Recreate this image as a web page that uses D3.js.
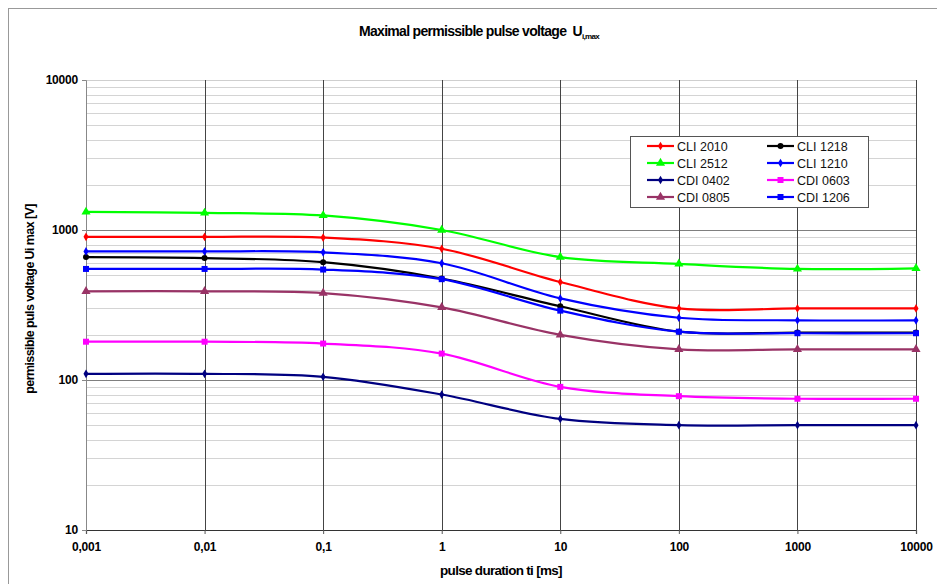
<!DOCTYPE html>
<html>
<head>
<meta charset="utf-8">
<script src="https://cdn.jsdelivr.net/npm/d3@7"></script>
<style>
  body { margin: 0; background: #fff; }
  svg { display: block; }
  .tick text { font-family: "Liberation Sans", Arial, sans-serif; font-weight: bold; font-size: 12px; letter-spacing: -0.2px; fill: #000; }
</style>
</head>
<body>
<div id="chart"></div>
<script>
// Data
const durations = [0.001, 0.01, 0.1, 1, 10, 100, 1000, 10000];
const durationLabels = ['0,001', '0,01', '0,1', '1', '10', '100', '1000', '10000'];
const voltageTicks = [10, 100, 1000, 10000];

const seriesNames = ['CLI 2010', 'CLI 1218', 'CLI 2512', 'CLI 1210', 'CDI 0402', 'CDI 0603', 'CDI 0805', 'CDI 1206'];
const cli2010 = [900, 900, 890, 750, 450, 300, 300, 300];
const cli1218 = [660, 650, 610, 475, 310, 210, 207, 207];
const cli2512 = [1320, 1300, 1250, 1000, 660, 595, 550, 555];
const cli1210 = [720, 720, 710, 600, 350, 260, 250, 250];
const cdi0402 = [110, 110, 105, 80, 55, 50, 50, 50];
const cdi0603 = [180, 180, 175, 150, 90, 78, 75, 75];
const cdi0805 = [390, 390, 380, 305, 200, 160, 160, 160];
const cdi1206 = [550, 550, 545, 470, 290, 210, 205, 205];

const seriesValues = [cli2010, cli1218, cli2512, cli1210, cdi0402, cdi0603, cdi0805, cdi1206];
const seriesColors = ['#ff0000', '#000000', '#00ff00', '#0000ff', '#000080', '#ff00ff', '#993366', '#0000ff'];
const seriesMarkers = ['diamond', 'circle', 'triangle', 'diamond', 'diamond', 'square', 'triangle', 'square'];

// Dimensions
const W = 937, H = 584;
const margin = { top: 80, right: 21, bottom: 54, left: 86 };
const width = W - margin.left - margin.right;
const height = H - margin.top - margin.bottom;
const font = '"Liberation Sans", Arial, sans-serif';

const svg = d3.select('#chart').append('svg')
    .attr('width', W)
    .attr('height', H);

// outer chart frame
svg.append('rect')
    .attr('x', 8.5).attr('y', 8.5)
    .attr('width', W + 20).attr('height', H + 20)
    .attr('fill', 'none')
    .attr('stroke', '#999')
    .attr('stroke-width', 1);

const g = svg.append('g')
    .attr('transform', `translate(${margin.left}, ${margin.top})`);

const x = d3.scaleLog().domain([0.001, 10000]).range([0, width]);
const y = d3.scaleLog().domain([10, 10000]).range([height, 0]);

// minor horizontal grid
const minor = [];
voltageTicks.slice(0, -1).forEach(t => { for (let k = 2; k <= 9; k++) minor.push(t * k); });
g.append('g').selectAll('line').data(minor).join('line')
    .attr('x1', 0).attr('x2', width)
    .attr('y1', d => Math.round(y(d)) + 0.5).attr('y2', d => Math.round(y(d)) + 0.5)
    .attr('stroke', '#d4d4d4');

// major horizontal grid
g.append('g').selectAll('line').data(voltageTicks.slice(1)).join('line')
    .attr('x1', 0).attr('x2', width)
    .attr('y1', d => Math.round(y(d)) + 0.5).attr('y2', d => Math.round(y(d)) + 0.5)
    .attr('stroke', d => d === 10000 ? '#cfcfcf' : '#7f7f7f');

// vertical grid
g.append('g').selectAll('line').data(durations.slice(1)).join('line')
    .attr('x1', d => Math.round(x(d)) + 0.5).attr('x2', d => Math.round(x(d)) + 0.5)
    .attr('y1', 0).attr('y2', height)
    .attr('stroke', '#444');

// axes
const xAxis = d3.axisBottom(x)
    .tickValues(durations)
    .tickFormat((d, i) => durationLabels[i])
    .tickSize(4)
    .tickPadding(8);
const yAxis = d3.axisLeft(y)
    .tickValues(voltageTicks)
    .tickFormat(d3.format('d'))
    .tickSize(4)
    .tickPadding(4);

g.append('g')
    .attr('transform', `translate(0, ${height})`)
    .call(xAxis)
    .call(a => a.select('.domain').attr('stroke', '#333').attr('stroke-width', 1.2))
    .call(a => a.selectAll('.tick line').attr('stroke', '#555'));

g.append('g')
    .call(yAxis)
    .call(a => a.select('.domain').attr('stroke', '#888'))
    .call(a => a.selectAll('.tick line').attr('stroke', '#888'));

// series lines
const line = d3.line()
    .x((d, i) => x(durations[i]))
    .y(d => y(d))
    .curve(d3.curveCatmullRom.alpha(0.5));

const markerPath = (type) => {
    if (type === 'circle') return d3.symbol(d3.symbolCircle, 28)();
    if (type === 'square') return d3.symbol(d3.symbolSquare, 36)();
    if (type === 'triangle') return d3.symbol(d3.symbolTriangle, 36)();
    return d3.symbol(d3.symbolDiamond, 22)();
};

seriesValues.forEach((vals, s) => {
    g.append('path')
        .datum(vals)
        .attr('d', line)
        .attr('fill', 'none')
        .attr('stroke', seriesColors[s])
        .attr('stroke-width', 2.2);
    g.append('g').selectAll('path').data(vals).join('path')
        .attr('transform', (d, i) => `translate(${x(durations[i])}, ${y(d)})`)
        .attr('d', markerPath(seriesMarkers[s]))
        .attr('fill', seriesColors[s]);
});

// legend
const legend = svg.append('g').attr('transform', 'translate(630, 136)');
legend.append('rect')
    .attr('x', 0.5).attr('y', 0.5)
    .attr('width', 238).attr('height', 71)
    .attr('fill', '#fff')
    .attr('stroke', '#555');

seriesNames.forEach((name, s) => {
    const col = s % 2, row = Math.floor(s / 2);
    const lx = 17 + col * 120, ly = 10 + row * 17;
    const item = legend.append('g').attr('transform', `translate(${lx}, ${ly})`);
    item.append('line')
        .attr('x1', 0).attr('x2', 27)
        .attr('stroke', seriesColors[s]).attr('stroke-width', 2.2);
    item.append('path')
        .attr('transform', 'translate(13.5, 0)')
        .attr('d', markerPath(seriesMarkers[s]))
        .attr('fill', seriesColors[s]);
    item.append('text')
        .attr('x', 30).attr('y', 4.5)
        .attr('font-family', 'Arial, "Liberation Sans", sans-serif')
        .attr('font-size', 12.5)
        .attr('fill', '#111')
        .text(name);
});

// title
const title = svg.append('text')
    .attr('x', 479).attr('y', 36)
    .attr('text-anchor', 'middle')
    .attr('font-family', font)
    .attr('font-weight', 'bold')
    .attr('font-size', 14)
    .attr('letter-spacing', -0.7);
title.append('tspan').text('Maximal permissible pulse voltage\u00a0\u00a0U');
title.append('tspan').attr('font-size', 8).attr('dy', 3).text('i,max');

// axis titles
svg.append('text')
    .attr('x', margin.left + width / 2).attr('y', 575)
    .attr('text-anchor', 'middle')
    .attr('font-family', font)
    .attr('font-weight', 'bold')
    .attr('font-size', 13.5)
    .attr('letter-spacing', -0.7)
    .text('pulse duration ti [ms]');

svg.append('text')
    .attr('transform', `translate(34, ${margin.top + height / 2 - 6}) rotate(-90)`)
    .attr('text-anchor', 'middle')
    .attr('font-family', font)
    .attr('font-weight', 'bold')
    .attr('font-size', 12.5)
    .attr('letter-spacing', -0.6)
    .text('permissible puls voltage Ui max [V]');
</script>
</body>
</html>
